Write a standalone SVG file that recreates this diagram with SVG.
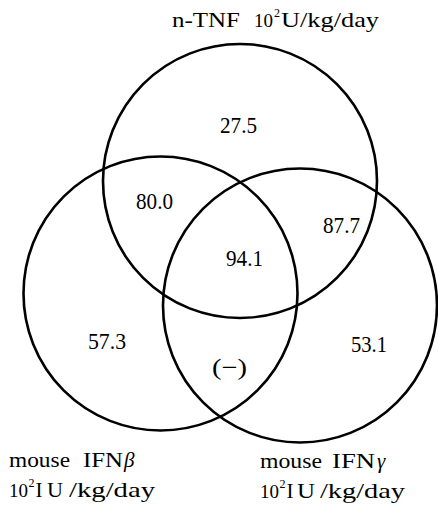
<svg xmlns="http://www.w3.org/2000/svg" width="438" height="505" viewBox="0 0 438 505">
<style>
.c{fill:none;stroke:#000;stroke-width:2.6}
.t{font-family:"Liberation Serif","DejaVu Serif",serif;font-size:21px;fill:#000}
.d{font-size:19px}
.s{font-size:12px}
.n{font-family:"Liberation Serif","DejaVu Serif",serif;font-size:23px;fill:#000}
</style>
<rect width="438" height="505" fill="#fff"/>
<g id="connectors"></g>
<g id="set-tnf">
<circle class="c" cx="240" cy="181" r="137"/>
<text class="t" x="172" y="27" textLength="68" lengthAdjust="spacingAndGlyphs">n-TNF</text>
<text class="t" y="27"><tspan class="d" x="254">10</tspan><tspan class="s" x="274" y="17">2</tspan><tspan x="281" y="27" textLength="98" lengthAdjust="spacingAndGlyphs">U/kg/day</tspan></text>
</g>
<g id="set-ifnb">
<circle class="c" cx="160.5" cy="293.5" r="137"/>
<text class="t" x="9" y="467" textLength="61" lengthAdjust="spacingAndGlyphs">mouse</text>
<text class="t" x="83" y="467"><tspan textLength="40" lengthAdjust="spacingAndGlyphs">IFN</tspan><tspan x="124" font-style="italic">β</tspan></text>
<text class="t" y="497"><tspan class="d" x="9">10</tspan><tspan class="s" x="28.5" y="487">2</tspan><tspan x="35.5" y="497">I</tspan><tspan x="47" textLength="16" lengthAdjust="spacingAndGlyphs">U</tspan><tspan x="69" textLength="86" lengthAdjust="spacingAndGlyphs">/kg/day</tspan></text>
</g>
<g id="set-ifng">
<circle class="c" cx="300" cy="305.5" r="137"/>
<text class="t" x="260" y="468" textLength="62" lengthAdjust="spacingAndGlyphs">mouse</text>
<text class="t" x="332" y="468"><tspan textLength="43" lengthAdjust="spacingAndGlyphs">IFN</tspan><tspan x="377" font-style="italic">γ</tspan></text>
<text class="t" y="498"><tspan class="d" x="260">10</tspan><tspan class="s" x="279.5" y="488">2</tspan><tspan x="286.5" y="498">I</tspan><tspan x="297" textLength="18" lengthAdjust="spacingAndGlyphs">U</tspan><tspan x="320" textLength="85" lengthAdjust="spacingAndGlyphs">/kg/day</tspan></text>
</g>
<g id="values">
<text class="n" x="220" y="133" textLength="37" lengthAdjust="spacingAndGlyphs">27.5</text>
<text class="n" x="136" y="209" textLength="37" lengthAdjust="spacingAndGlyphs">80.0</text>
<text class="n" x="226" y="266" textLength="37" lengthAdjust="spacingAndGlyphs">94.1</text>
<text class="n" x="323" y="233" textLength="37" lengthAdjust="spacingAndGlyphs">87.7</text>
<text class="n" x="88" y="349" textLength="38" lengthAdjust="spacingAndGlyphs">57.3</text>
<text class="n" x="351" y="352" textLength="36" lengthAdjust="spacingAndGlyphs">53.1</text>
<text class="n" x="212" y="375" textLength="35" lengthAdjust="spacingAndGlyphs">(−)</text>
</g>
</svg>
